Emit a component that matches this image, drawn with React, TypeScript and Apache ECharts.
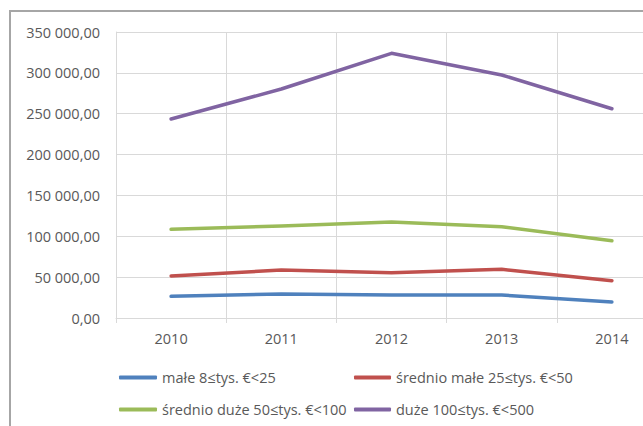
import React, { useEffect, useRef } from "react";
import * as echarts from "echarts";

const years = ["2010", "2011", "2012", "2013", "2014"];
const seriesNames = [
  "małe 8≤tys. €<25",
  "średnio małe 25≤tys. €<50",
  "średnio duże 50≤tys. €<100",
  "duże 100≤tys. €<500",
];
const maleValues = [26500, 29400, 28100, 28100, 19600];
const srednioMaleValues = [51400, 58700, 55500, 59600, 45700];
const srednioDuzeValues = [108500, 112600, 117500, 111800, 94600];
const duzeValues = [243500, 280200, 323900, 297400, 256100];
const colors = ["#4F81BD", "#C0504D", "#9BBB59", "#8064A2"];

const FONT = "'Open Sans', 'Noto Sans', sans-serif";
const TXT = "#595959";
const GRID = "#d9d9d9";

function fmt(v: number): string {
  const fixed = v.toFixed(2);
  const [intPart, dec] = fixed.split(".");
  const withSpaces = intPart.replace(/\B(?=(\d{3})+(?!\d))/g, " ");
  return withSpaces + "," + dec;
}

export default function App() {
  const ref = useRef<HTMLDivElement>(null);
  useEffect(() => {
    if (!ref.current) return;
    const chart = echarts.init(ref.current, null, { renderer: "svg" });
    const allValues = [maleValues, srednioMaleValues, srednioDuzeValues, duzeValues];
    const legendPos = [
      { left: 119, top: 370, w: 38 },
      { left: 354, top: 370, w: 37 },
      { left: 119, top: 402, w: 38 },
      { left: 354, top: 402, w: 37 },
    ];
    chart.setOption({
      animation: false,
      backgroundColor: "#ffffff",
      textStyle: { fontFamily: FONT },
      graphic: [
        {
          type: "rect",
          shape: { x: 10, y: 11, width: 720, height: 500 },
          style: { fill: "none", stroke: "#a6a6a6", lineWidth: 2 },
          silent: true,
        },
      ],
      grid: { left: 116, top: 32, right: 33, bottom: 108, containLabel: false },
      legend: seriesNames.map((n, i) => ({
        data: [n],
        left: legendPos[i].left,
        top: legendPos[i].top,
        icon: "roundRect",
        itemWidth: legendPos[i].w,
        itemHeight: 4,
        padding: 0,
        selectedMode: false,
        textStyle: { color: TXT, fontSize: 14.5, fontFamily: FONT },
      })),
      xAxis: {
        type: "category",
        data: years,
        boundaryGap: true,
        axisLine: { show: true, lineStyle: { color: GRID, width: 1 } },
        axisTick: { show: true, length: 5, lineStyle: { color: GRID } },
        splitLine: { show: true, lineStyle: { color: GRID, width: 1 } },
        axisLabel: { color: TXT, fontSize: 14.5, fontFamily: FONT, margin: 13 },
      },
      yAxis: {
        type: "value",
        min: 0,
        max: 350000,
        interval: 50000,
        axisLine: { show: true, lineStyle: { color: GRID, width: 1 } },
        axisTick: { show: false },
        splitLine: { show: true, lineStyle: { color: GRID, width: 1 } },
        axisLabel: {
          color: TXT,
          fontSize: 14.5,
          fontFamily: FONT,
          margin: 16,
          formatter: (v: number) => fmt(v),
        },
      },
      series: seriesNames.map((n, i) => ({
        name: n,
        type: "line",
        data: allValues[i],
        showSymbol: false,
        symbol: "none",
        color: colors[i],
        itemStyle: { color: colors[i] },
        lineStyle: { color: colors[i], width: 3.5, cap: "round", join: "round" },
      })),
    });
    return () => chart.dispose();
  }, []);
  return (
    <div
      style={{
        position: "absolute",
        left: 0,
        top: 0,
        width: 643,
        height: 426,
        overflow: "hidden",
      }}
    >
      <div ref={ref} style={{ width: 700, height: 426 }} />
    </div>
  );
}
